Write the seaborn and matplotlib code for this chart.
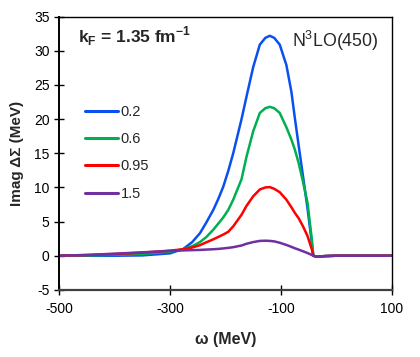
import numpy as np
import pandas as pd
import seaborn as sns
import matplotlib.pyplot as plt

# omega grid (MeV) and Imag Delta Sigma (MeV) per density label
omega = [-500, -450, -400, -350, -300, -276, -260, -246, -235, -222, -213, -204,
         -195, -186, -171, -162, -150, -138, -128, -120, -112, -102, -90, -81,
         -75, -68, -60, -52, -44, -41.5, -35, -20, 0, 50, 100]

im_02 = [0, 0, 0, 0.05, 0.35, 1.0, 2.0, 3.3, 4.8, 6.7, 8.3, 10.1,
         12.4, 15.0, 20.0, 23.3, 27.6, 30.9, 31.9, 32.2, 31.9, 30.9, 27.9, 24.0,
         20.3, 16.2, 11.6, 7.0, 1.8, 0, -0.15, -0.05, 0, 0, 0]
im_06 = [0, 0.05, 0.12, 0.25, 0.6, 0.95, 1.4, 2.0, 2.7, 3.8, 4.7, 5.6,
         6.7, 8.2, 11.2, 14.5, 18.2, 20.9, 21.6, 21.8, 21.6, 20.9, 18.8, 17.0,
         15.6, 13.6, 10.8, 7.8, 2.3, 0, -0.15, -0.05, 0, 0, 0]
im_095 = [0, 0.1, 0.25, 0.45, 0.75, 0.95, 1.2, 1.55, 1.95, 2.4, 2.75, 3.1,
          3.5, 4.3, 6.0, 7.3, 8.7, 9.7, 10.0, 10.05, 9.8, 9.3, 8.2, 7.1,
          6.3, 5.5, 4.3, 2.9, 0.9, 0, -0.15, -0.05, 0, 0, 0]
im_15 = [0, 0.12, 0.3, 0.5, 0.7, 0.78, 0.82, 0.85, 0.9, 0.95, 1.0, 1.07,
         1.15, 1.25, 1.5, 1.75, 2.0, 2.17, 2.2, 2.17, 2.1, 1.9, 1.58, 1.3,
         1.1, 0.9, 0.65, 0.4, 0.1, 0, -0.15, -0.05, 0, 0, 0]

labels = ["0.2", "0.6", "0.95", "1.5"]
colors = ["#0A50F0", "#00B050", "#FF0000", "#7030A0"]

frames = []
for lab, vals in zip(labels, [im_02, im_06, im_095, im_15]):
    frames.append(pd.DataFrame({"omega": omega, "im": vals, "k": lab}))
df = pd.concat(frames, ignore_index=True)

sns.set_style("white")
plt.rcParams["font.family"] = ["Liberation Sans", "DejaVu Sans"]
plt.rcParams["axes.unicode_minus"] = False
plt.rcParams["mathtext.fontset"] = "custom"
plt.rcParams["mathtext.rm"] = "Liberation Sans"
plt.rcParams["mathtext.bf"] = "Liberation Sans:bold"

fig = plt.figure(figsize=(4.2, 3.57), dpi=100)
ax = fig.add_axes([0.141, 0.188, 0.7916, 0.7653])

sns.lineplot(data=df, x="omega", y="im", hue="k", hue_order=labels,
             palette=colors, linewidth=1.8, ax=ax, sort=False)

ax.set_xlim(-500, 100)
ax.set_ylim(-5, 35)
ax.set_xticks([-500, -300, -100, 100])
ax.set_yticks(range(-5, 36, 5))
ax.tick_params(bottom=True, left=True, top=False, right=False,
               direction="inout", length=7, width=1, labelsize=10,
               colors="black")
ax.tick_params(axis="x", pad=5)
for s in ax.spines.values():
    s.set_color("black")
    s.set_linewidth(1.0)
ax.spines["bottom"].set_color("#404040")
ax.spines["bottom"].set_linewidth(1.6)
ax.spines["left"].set_linewidth(1.4)

ax.set_xlabel("ω (MeV)", fontsize=11.5, fontweight="bold", labelpad=12)
ax.set_ylabel("Imag ΔΣ (MeV)", fontsize=11, fontweight="bold", labelpad=7)

ax.text(0.055, 0.93, r"k$_\mathbf{F}$ = 1.35 fm$^\mathbf{-1}$",
        transform=ax.transAxes, fontsize=12.5, fontweight="bold", va="center")
ax.text(0.70, 0.91, r"N$^\mathregular{3}$LO(450)", transform=ax.transAxes,
        fontsize=12.8, va="center")

leg = ax.legend(loc="upper left", bbox_to_anchor=(0.077, 0.678), frameon=False,
                fontsize=10.5, handlelength=2.3, handletextpad=0.15,
                labelspacing=0.92, borderpad=0, borderaxespad=0, title=None)
for line in leg.get_lines():
    line.set_linewidth(2.2)

fig.savefig("out.png", dpi=100)
